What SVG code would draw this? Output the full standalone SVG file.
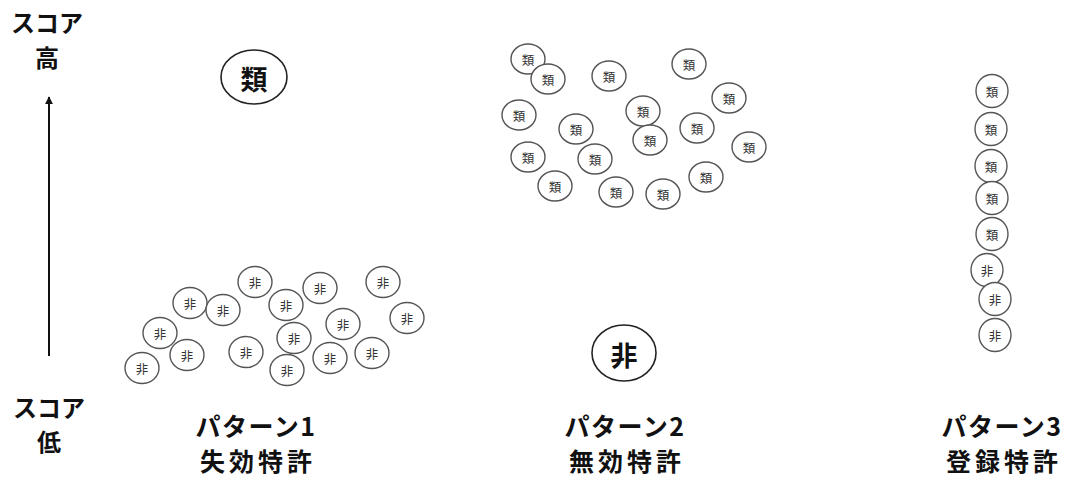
<svg xmlns="http://www.w3.org/2000/svg" width="1067" height="477" viewBox="0 0 1067 477">
<defs>
<style>
.lbl{font-family:"Noto Sans CJK JP","Liberation Sans",sans-serif;font-weight:700;fill:#111;text-anchor:middle}
.sc{font-size:24px}
.pt{font-size:25px;letter-spacing:1.5px}
.pt2{font-size:25px;letter-spacing:4px}
.big{fill:#fff;stroke:#222;stroke-width:1.6}
.bt{font-family:"Noto Sans CJK JP",sans-serif;font-weight:700;font-size:27px;fill:#111;text-anchor:middle;dominant-baseline:central}
.s{fill:#fff;stroke:#555;stroke-width:1.4}
.st{font-family:"Noto Sans CJK JP",sans-serif;font-size:12.5px;fill:#333;text-anchor:middle;dominant-baseline:central}
</style>
<marker id="ah" viewBox="0 0 10 10" refX="9" refY="5" markerWidth="8" markerHeight="8" orient="auto" markerUnits="userSpaceOnUse">
<path d="M0,0 L10,5 L0,10 z" fill="#111"/>
</marker>
</defs>
<rect width="1067" height="477" fill="#fff"/>

<g id="axis-labels">
<text class="lbl sc" x="47" y="32">スコア</text>
<text class="lbl sc" x="47" y="67">高</text>
<text class="lbl sc" x="49" y="417">スコア</text>
<text class="lbl sc" x="49" y="451">低</text>
</g>

<g id="connectors">
<line x1="49" y1="356" x2="49" y2="97" stroke="#111" stroke-width="2" marker-end="url(#ah)"/>
</g>

<g id="big-rui">
<ellipse class="big" cx="254" cy="77" rx="33" ry="27"/>
<text class="bt" x="254" y="78">類</text>
</g>
<g id="big-hi">
<ellipse class="big" cx="624" cy="353" rx="32" ry="28"/>
<text class="bt" x="624" y="354">非</text>
</g>

<g id="pattern1">
<g id="p1-n1"><ellipse class="s" cx="255" cy="282" rx="17" ry="15.5"/><text class="st" x="255" y="282">非</text></g>
<g id="p1-n2"><ellipse class="s" cx="190" cy="303" rx="17" ry="15.5"/><text class="st" x="190" y="303">非</text></g>
<g id="p1-n3"><ellipse class="s" cx="223" cy="310" rx="17" ry="15.5"/><text class="st" x="223" y="310">非</text></g>
<g id="p1-n4"><ellipse class="s" cx="286" cy="305" rx="17" ry="15.5"/><text class="st" x="286" y="305">非</text></g>
<g id="p1-n5"><ellipse class="s" cx="320" cy="288" rx="17" ry="15.5"/><text class="st" x="320" y="288">非</text></g>
<g id="p1-n6"><ellipse class="s" cx="383" cy="282" rx="17" ry="15.5"/><text class="st" x="383" y="282">非</text></g>
<g id="p1-n7"><ellipse class="s" cx="407" cy="318" rx="17" ry="15.5"/><text class="st" x="407" y="318">非</text></g>
<g id="p1-n8"><ellipse class="s" cx="160" cy="333" rx="17" ry="15.5"/><text class="st" x="160" y="333">非</text></g>
<g id="p1-n9"><ellipse class="s" cx="187" cy="355" rx="17" ry="15.5"/><text class="st" x="187" y="355">非</text></g>
<g id="p1-n10"><ellipse class="s" cx="142" cy="368" rx="17" ry="15.5"/><text class="st" x="142" y="368">非</text></g>
<g id="p1-n11"><ellipse class="s" cx="246" cy="352" rx="17" ry="15.5"/><text class="st" x="246" y="352">非</text></g>
<g id="p1-n12"><ellipse class="s" cx="294" cy="338" rx="17" ry="15.5"/><text class="st" x="294" y="338">非</text></g>
<g id="p1-n13"><ellipse class="s" cx="343" cy="324" rx="17" ry="15.5"/><text class="st" x="343" y="324">非</text></g>
<g id="p1-n14"><ellipse class="s" cx="287" cy="370" rx="17" ry="15.5"/><text class="st" x="287" y="370">非</text></g>
<g id="p1-n15"><ellipse class="s" cx="330" cy="358" rx="17" ry="15.5"/><text class="st" x="330" y="358">非</text></g>
<g id="p1-n16"><ellipse class="s" cx="372" cy="353" rx="17" ry="15.5"/><text class="st" x="372" y="353">非</text></g>
</g>

<g id="pattern2">
<g id="p2-n1"><ellipse class="s" cx="528" cy="59" rx="17" ry="15"/><text class="st" x="528" y="59">類</text></g>
<g id="p2-n2"><ellipse class="s" cx="548" cy="79" rx="17" ry="15"/><text class="st" x="548" y="79">類</text></g>
<g id="p2-n3"><ellipse class="s" cx="609" cy="76" rx="17" ry="15"/><text class="st" x="609" y="76">類</text></g>
<g id="p2-n4"><ellipse class="s" cx="689" cy="64" rx="17" ry="15"/><text class="st" x="689" y="64">類</text></g>
<g id="p2-n5"><ellipse class="s" cx="729" cy="98" rx="17" ry="15"/><text class="st" x="729" y="98">類</text></g>
<g id="p2-n6"><ellipse class="s" cx="519" cy="115" rx="17" ry="15"/><text class="st" x="519" y="115">類</text></g>
<g id="p2-n7"><ellipse class="s" cx="643" cy="111" rx="17" ry="15"/><text class="st" x="643" y="111">類</text></g>
<g id="p2-n8"><ellipse class="s" cx="576" cy="129" rx="17" ry="15"/><text class="st" x="576" y="129">類</text></g>
<g id="p2-n9"><ellipse class="s" cx="697" cy="128" rx="17" ry="15"/><text class="st" x="697" y="128">類</text></g>
<g id="p2-n10"><ellipse class="s" cx="650" cy="140" rx="17" ry="15"/><text class="st" x="650" y="140">類</text></g>
<g id="p2-n11"><ellipse class="s" cx="749" cy="147" rx="17" ry="15"/><text class="st" x="749" y="147">類</text></g>
<g id="p2-n12"><ellipse class="s" cx="528" cy="157" rx="17" ry="15"/><text class="st" x="528" y="157">類</text></g>
<g id="p2-n13"><ellipse class="s" cx="595" cy="159" rx="17" ry="15"/><text class="st" x="595" y="159">類</text></g>
<g id="p2-n14"><ellipse class="s" cx="555" cy="186" rx="17" ry="15"/><text class="st" x="555" y="186">類</text></g>
<g id="p2-n15"><ellipse class="s" cx="616" cy="192" rx="17" ry="15"/><text class="st" x="616" y="192">類</text></g>
<g id="p2-n16"><ellipse class="s" cx="663" cy="194" rx="17" ry="15"/><text class="st" x="663" y="194">類</text></g>
<g id="p2-n17"><ellipse class="s" cx="706" cy="177" rx="17" ry="15"/><text class="st" x="706" y="177">類</text></g>
</g>

<g id="pattern3">
<g id="p3-n1"><ellipse class="s" cx="992" cy="91" rx="16" ry="16.5"/><text class="st" x="992" y="91">類</text></g>
<g id="p3-n2"><ellipse class="s" cx="991" cy="129" rx="16" ry="16.5"/><text class="st" x="991" y="129">類</text></g>
<g id="p3-n3"><ellipse class="s" cx="991" cy="166" rx="16" ry="16.5"/><text class="st" x="991" y="166">類</text></g>
<g id="p3-n4"><ellipse class="s" cx="992" cy="198" rx="16" ry="16.5"/><text class="st" x="992" y="198">類</text></g>
<g id="p3-n5"><ellipse class="s" cx="992" cy="234" rx="16" ry="16.5"/><text class="st" x="992" y="234">類</text></g>
<g id="p3-n6"><ellipse class="s" cx="987" cy="270" rx="16" ry="16.5"/><text class="st" x="987" y="270">非</text></g>
<g id="p3-n7"><ellipse class="s" cx="995" cy="299" rx="16" ry="16.5"/><text class="st" x="995" y="299">非</text></g>
<g id="p3-n8"><ellipse class="s" cx="995" cy="335" rx="16" ry="16.5"/><text class="st" x="995" y="335">非</text></g>
</g>

<g id="pattern-labels">
<text class="lbl pt" x="256" y="436">パターン1</text>
<text class="lbl pt2" x="258" y="471">失効特許</text>
<text class="lbl pt" x="625" y="436">パターン2</text>
<text class="lbl pt2" x="627" y="471">無効特許</text>
<text class="lbl pt" x="1002" y="436">パターン3</text>
<text class="lbl pt2" x="1004" y="471">登録特許</text>
</g>
</svg>
